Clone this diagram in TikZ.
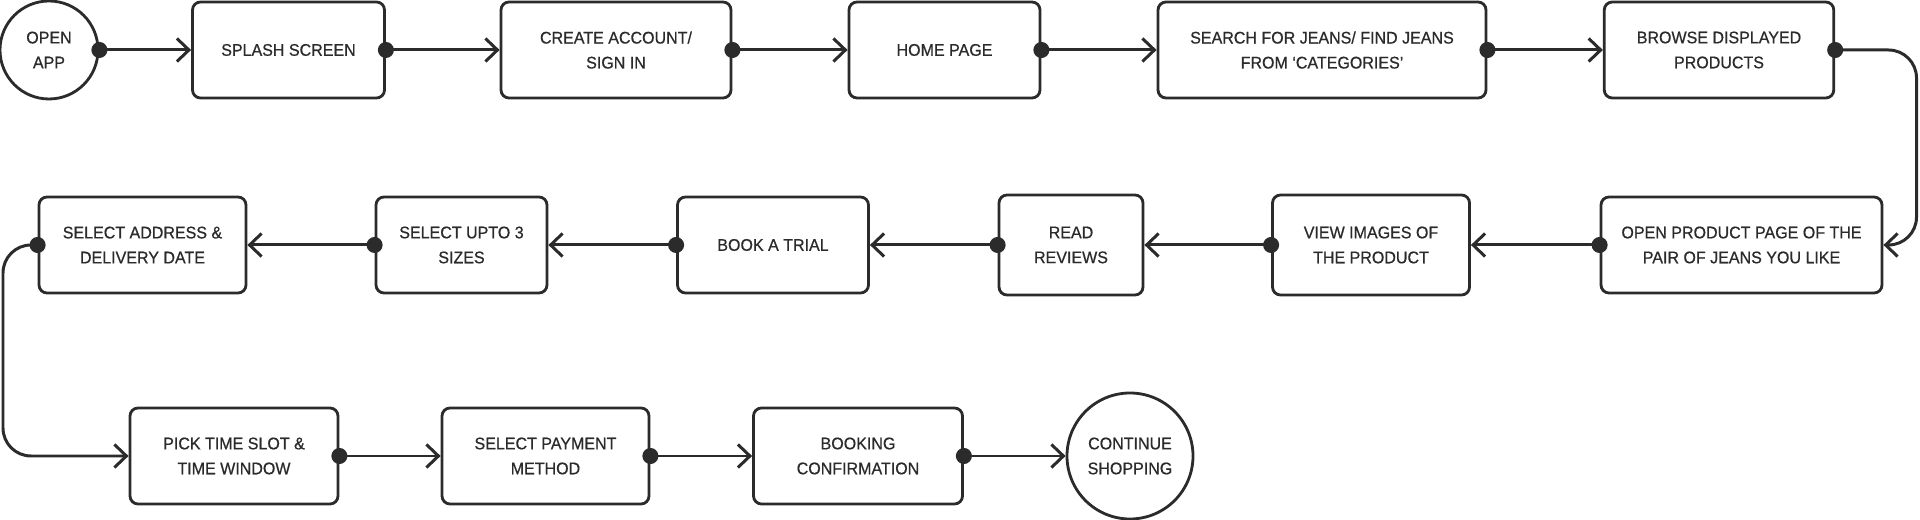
\documentclass[tikz,border=0pt]{standalone}
\usepackage{fontspec}
\setmainfont[FakeStretch=0.95, FakeBold=0.6]{Liberation Sans}
\usepackage{tikz}
\usetikzlibrary{arrows.meta, positioning, shapes.geometric}
\usepackage{xcolor}
\definecolor{ink}{RGB}{43,43,43}

\begin{document}
\begin{tikzpicture}[
  stepbox/.style={rectangle, rounded corners=0.16cm, draw=ink, line width=1.6pt,
                  fill=white, text=ink, align=center, minimum height=1.92cm,
                  font=\fontsize{9.6pt}{14.2pt}\selectfont},
  endpoint/.style={circle, draw=ink, line width=1.6pt, fill=white, text=ink,
                   align=center, inner sep=0pt,
                   font=\fontsize{9.6pt}{14.2pt}\selectfont},
  flow/.style={draw=ink, line width=1.7pt,
               {Circle[length=0.32cm]}-{Straight Barb[length=0.24cm, width=0.46cm]},
               shorten <=-0.16cm}
]
\useasboundingbox (0,0) rectangle (38.4,10.4);

% top row
\node[endpoint, minimum size=1.96cm] (open) at (0.98, 9.40) {OPEN\\APP};
\node[stepbox, minimum width=3.84cm] (splash) at (5.77, 9.40) {SPLASH SCREEN};
\node[stepbox, minimum width=4.60cm] (account) at (12.32, 9.40) {CREATE ACCOUNT/\\SIGN IN};
\node[stepbox, minimum width=3.82cm] (home) at (18.89, 9.40) {HOME PAGE};
\node[stepbox, minimum width=6.56cm] (search) at (26.44, 9.40) {SEARCH FOR JEANS/ FIND JEANS\\FROM ‘CATEGORIES’};
\node[stepbox, minimum width=4.59cm] (browse) at (34.38, 9.40) {BROWSE DISPLAYED\\PRODUCTS};

% middle row, right to left
\node[stepbox, minimum width=5.62cm] (product) at (34.83, 5.50) {OPEN PRODUCT PAGE OF THE\\PAIR OF JEANS YOU LIKE};
\node[stepbox, minimum width=3.94cm, minimum height=2.0cm] (images) at (27.42, 5.50) {VIEW IMAGES OF\\THE PRODUCT};
\node[stepbox, minimum width=2.88cm, minimum height=2.0cm] (reviews) at (21.42, 5.50) {READ\\REVIEWS};
\node[stepbox, minimum width=3.82cm] (trial) at (15.46, 5.50) {BOOK A TRIAL};
\node[stepbox, minimum width=3.42cm] (sizes) at (9.23, 5.50) {SELECT UPTO 3\\SIZES};
\node[stepbox, minimum width=4.14cm] (address) at (2.85, 5.50) {SELECT ADDRESS \&\\DELIVERY DATE};

% bottom row
\node[stepbox, minimum width=4.16cm] (slot) at (4.68, 1.28) {PICK TIME SLOT \&\\TIME WINDOW};
\node[stepbox, minimum width=4.14cm] (payment) at (10.91, 1.28) {SELECT PAYMENT\\METHOD};
\node[stepbox, minimum width=4.18cm] (booking) at (17.16, 1.28) {BOOKING\\CONFIRMATION};
\node[endpoint, minimum size=2.52cm] (continue) at (22.60, 1.28) {CONTINUE\\SHOPPING};

% turning points of the two bends
\coordinate (rturn) at (38.33, 7.50);
\coordinate (lturn) at (0.06, 3.40);

% connectors
\draw[flow] (open) -- (splash);
\draw[flow] (splash) -- (account);
\draw[flow] (account) -- (home);
\draw[flow] (home) -- (search);
\draw[flow] (search) -- (browse);
\draw[flow, rounded corners=0.56cm] (browse.east) -| (rturn) |- (product.east);
\draw[flow] (product) -- (images);
\draw[flow] (images) -- (reviews);
\draw[flow] (reviews) -- (trial);
\draw[flow] (trial) -- (sizes);
\draw[flow] (sizes) -- (address);
\draw[flow, rounded corners=0.56cm] (address.west) -| (lturn) |- (slot.west);
\draw[flow] (slot) -- (payment);
\draw[flow] (payment) -- (booking);
\draw[flow] (booking) -- (continue);

\end{tikzpicture}
\end{document}
